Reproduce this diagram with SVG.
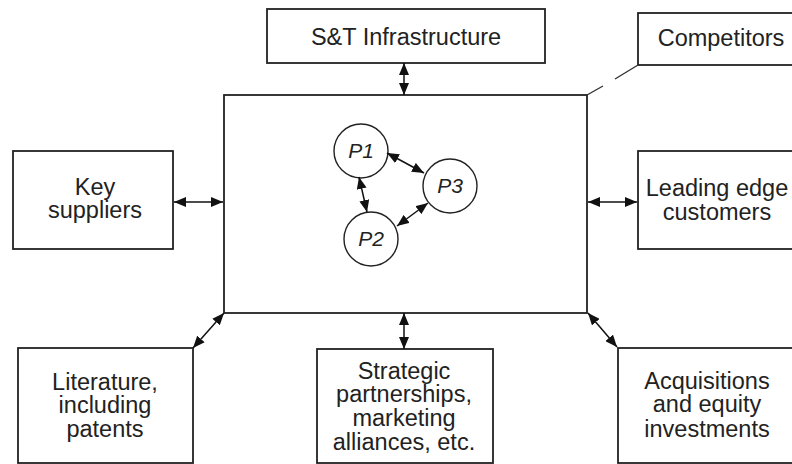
<svg xmlns="http://www.w3.org/2000/svg" width="792" height="464" viewBox="0 0 792 464">
<style>
.box{fill:#fff;stroke:#222;stroke-width:1.8}
.circ{fill:#fff;stroke:#222;stroke-width:1.4}
.t{font-family:"Liberation Sans",Arial,Helvetica,sans-serif;font-size:23.5px;fill:#222;text-anchor:middle}
.p{font-family:"Liberation Sans",Arial,Helvetica,sans-serif;font-size:21px;font-style:italic;fill:#222;text-anchor:middle}
.c{stroke:#111;stroke-width:1.5;fill:none;marker-start:url(#ah);marker-end:url(#ah)}
</style>
<defs>
<marker id="ah" viewBox="0 0 12 10" refX="12" refY="5" markerWidth="12" markerHeight="10" markerUnits="userSpaceOnUse" orient="auto-start-reverse">
<path d="M0,0 L12,5 L0,10 z" fill="#111"/>
</marker>
</defs>
<g id="main"><rect class="box" x="224" y="95" width="363" height="218"/></g>
<g id="st"><rect class="box" x="267" y="9" width="278" height="54"/><text class="t" x="406" y="45">S&amp;T Infrastructure</text></g>
<g id="competitors"><rect class="box" x="638" y="13" width="172" height="52"/><text class="t" x="721" y="46">Competitors</text></g>
<g id="suppliers"><rect class="box" x="13" y="151" width="160" height="98"/><text class="t" x="95" y="195">Key</text><text class="t" x="95" y="218">suppliers</text></g>
<g id="customers"><rect class="box" x="638" y="151" width="172" height="98"/><text class="t" x="717" y="196">Leading edge</text><text class="t" x="717" y="220">customers</text></g>
<g id="literature"><rect class="box" x="18" y="348" width="175" height="115"/><text class="t" x="105" y="390">Literature,</text><text class="t" x="105" y="413">including</text><text class="t" x="105" y="437">patents</text></g>
<g id="strategic"><rect class="box" x="317" y="349" width="176" height="114"/><text class="t" x="404" y="379">Strategic</text><text class="t" x="404" y="402">partnerships,</text><text class="t" x="404" y="426">marketing</text><text class="t" x="404" y="450">alliances, etc.</text></g>
<g id="acquisitions"><rect class="box" x="618" y="348" width="192" height="115"/><text class="t" x="707" y="389">Acquisitions</text><text class="t" x="707" y="412">and equity</text><text class="t" x="707" y="437">investments</text></g>
<g id="p1"><circle class="circ" cx="361" cy="151" r="27"/><text class="p" x="361" y="158">P1</text></g>
<g id="p2"><circle class="circ" cx="371" cy="239" r="27"/><text class="p" x="371" y="246">P2</text></g>
<g id="p3"><circle class="circ" cx="450" cy="186" r="27"/><text class="p" x="450" y="193">P3</text></g>
<g id="connectors">
<line class="c" x1="404" y1="63" x2="404" y2="95"/>
<line class="c" x1="404" y1="313" x2="404" y2="349"/>
<line class="c" x1="174" y1="202" x2="223" y2="202"/>
<line class="c" x1="588" y1="202" x2="637" y2="202"/>
<line class="c" x1="193" y1="348" x2="224" y2="313"/>
<line class="c" x1="588" y1="313" x2="617" y2="347"/>
<line class="c" x1="387" y1="153" x2="424" y2="173"/>
<line class="c" x1="359" y1="177" x2="367" y2="212"/>
<line class="c" x1="397" y1="226" x2="428" y2="203"/>
<path d="M638,65 L615,79 M603,86 L587,95" stroke="#333" stroke-width="1.4" fill="none"/>
</g>
</svg>
